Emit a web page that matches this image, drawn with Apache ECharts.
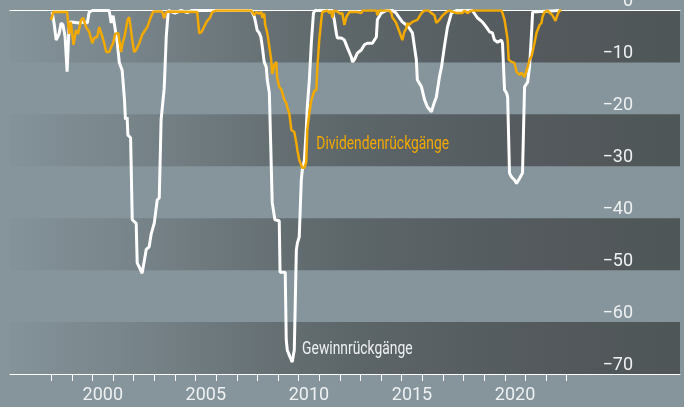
<!DOCTYPE html>
<html>
<head>
<meta charset="utf-8">
<script src="https://cdn.jsdelivr.net/npm/echarts@6/dist/echarts.min.js"></script>
<style>
html,body{margin:0;padding:0;background:#86959b;}
#c{width:684px;height:407px;}
</style>
</head>
<body>
<div id="c"></div>
<script>
// Gewinnrückgänge (earnings declines), [year, %]
const earningsDeclines = [
  [1998.04,-0.3],[1998.14,-2.5],[1998.24,-5.7],[1998.38,-4.5],[1998.48,-2.4],[1998.57,-2.8],[1998.67,-5.0],
  [1998.77,-11.8],[1998.82,-11.8],[1998.87,-2.4],[1998.97,-2.2],[1999.35,-2.4],[1999.6,-2.2],[1999.75,-2.4],
  [1999.84,-0.3],[2000.0,0],[2000.81,0],[2000.91,-2.4],[2001.0,-1.0],[2001.1,-3.5],[2001.2,-6.0],[2001.3,-10.0],
  [2001.44,-11.5],[2001.55,-17.0],[2001.6,-21.0],[2001.68,-20.5],[2001.72,-24.0],[2001.85,-24.5],[2001.93,-40.3],
  [2002.0,-40.6],[2002.12,-41.0],[2002.17,-48.6],[2002.27,-49.4],[2002.35,-49.6],[2002.41,-50.6],[2002.5,-50.3],
  [2002.61,-46.0],[2002.75,-45.5],[2002.85,-43.0],[2003.0,-40.9],[2003.14,-36.5],[2003.24,-36.1],[2003.33,-21.0],
  [2003.48,-15.0],[2003.58,-5.0],[2003.68,0],[2004.0,-0.5],[2004.3,0],[2004.6,-0.4],[2004.8,0],[2007.71,0],
  [2007.85,-1.2],[2007.92,-2.4],[2007.99,-3.8],[2008.09,-4.3],[2008.17,-5.1],[2008.24,-7.0],[2008.33,-9.9],
  [2008.43,-10.9],[2008.48,-13.4],[2008.58,-15.9],[2008.67,-15.9],[2008.72,-37.0],[2008.77,-37.2],[2008.85,-40.3],
  [2008.92,-40.3],[2009.06,-40.5],[2009.1,-50.4],[2009.16,-50.4],[2009.35,-50.4],[2009.4,-63.4],[2009.45,-65.4],
  [2009.58,-66.7],[2009.69,-67.7],[2009.79,-65.4],[2009.89,-46.1],[2009.94,-44.8],[2010.03,-43.6],[2010.13,-32.6],
  [2010.18,-30.7],[2010.28,-28.8],[2010.37,-23.0],[2010.42,-18.6],[2010.52,-13.4],[2010.62,-6.0],[2010.72,-0.5],
  [2010.8,0],[2011.64,0],[2011.73,-1.8],[2011.83,-4.4],[2011.88,-5.3],[2012.07,-5.3],[2012.22,-5.7],[2012.37,-7.2],
  [2012.56,-9.0],[2012.61,-9.9],[2012.7,-9.5],[2012.85,-8.2],[2013.04,-7.6],[2013.19,-6.6],[2013.33,-6.3],
  [2013.58,-6.3],[2013.77,-5.1],[2013.82,-1.8],[2014.01,-0.5],[2014.26,0],[2014.55,0],[2014.73,-0.5],[2014.89,-1.4],
  [2015.03,-2.2],[2015.23,-2.8],[2015.37,-3.4],[2015.52,-4.3],[2015.71,-9.5],[2015.76,-13.4],[2015.96,-14.7],
  [2016.11,-17.2],[2016.25,-18.6],[2016.44,-19.5],[2016.59,-17.6],[2016.68,-16.7],[2016.83,-12.8],[2016.93,-10.9],
  [2017.07,-7.0],[2017.22,-3.2],[2017.41,-0.5],[2017.66,0],[2018.43,0],[2018.67,-1.4],[2018.91,-2.2],[2019.11,-3.2],
  [2019.26,-4.1],[2019.4,-4.3],[2019.5,-5.7],[2019.65,-6.1],[2019.84,-5.7],[2019.89,-6.3],[2019.99,-15.3],
  [2020.09,-15.9],[2020.14,-16.7],[2020.23,-31.3],[2020.33,-32.1],[2020.47,-32.6],[2020.57,-33.3],[2020.72,-32.3],
  [2020.86,-31.3],[2020.96,-14.7],[2021.11,-13.8],[2021.2,-10.9],[2021.3,-4.3],[2021.35,-0.3],[2022.66,0]
];

// Dividendenrückgänge (dividend declines), [year, %]
const dividendDeclines = [
  [1997.99,-1.8],[1998.1,-0.3],[1998.77,-0.3],[1998.87,-4.5],[1998.95,-2.2],[1999.08,-6.6],[1999.2,-3.8],
  [1999.3,-4.5],[1999.45,-1.8],[1999.55,-1.4],[1999.69,-3.2],[1999.84,-4.1],[1999.99,-6.3],[2000.08,-5.3],
  [2000.23,-5.1],[2000.33,-3.2],[2000.42,-4.3],[2000.57,-6.3],[2000.67,-8.0],[2000.81,-8.0],[2000.91,-7.0],
  [2001.0,-6.3],[2001.1,-4.5],[2001.25,-4.3],[2001.39,-8.0],[2001.46,-6.3],[2001.55,-5.1],[2001.64,-3.2],
  [2001.7,-1.8],[2001.78,-1.3],[2001.85,-3.2],[2001.93,-5.7],[2002.02,-8.0],[2002.12,-7.6],[2002.27,-6.3],
  [2002.41,-4.7],[2002.55,-3.8],[2002.66,-3.2],[2002.8,-1.6],[2002.95,-0.2],[2003.38,-0.2],[2003.48,-1.5],
  [2003.55,-0.5],[2003.65,-0.2],[2005.08,-0.3],[2005.18,-4.4],[2005.3,-4.1],[2005.37,-4.4],[2005.53,-2.2],
  [2005.7,-1.4],[2005.81,-0.3],[2006.0,0],[2007.7,0],[2007.85,-0.9],[2007.94,-0.3],[2008.09,-0.6],[2008.19,-0.3],
  [2008.24,-1.4],[2008.33,-0.6],[2008.38,-2.8],[2008.48,-4.3],[2008.58,-7.0],[2008.67,-9.5],[2008.72,-12.2],
  [2008.82,-10.5],[2008.92,-9.9],[2008.96,-13.0],[2009.06,-14.7],[2009.16,-15.2],[2009.25,-15.5],[2009.31,-17.2],
  [2009.4,-17.8],[2009.45,-18.6],[2009.55,-19.9],[2009.65,-23.0],[2009.79,-23.4],[2009.89,-25.5],[2009.94,-26.9],
  [2010.03,-28.8],[2010.18,-30.3],[2010.28,-30.3],[2010.37,-29.2],[2010.42,-23.0],[2010.52,-19.7],[2010.62,-17.2],
  [2010.67,-16.9],[2010.76,-15.5],[2010.86,-15.3],[2010.91,-10.9],[2011.0,-5.7],[2011.1,-1.8],[2011.15,-0.3],
  [2011.39,0],[2011.49,-0.5],[2011.56,0],[2011.64,-1.4],[2011.7,0],[2011.88,-0.2],[2012.0,-0.6],[2012.12,-0.5],
  [2012.22,-2.8],[2012.32,-1.2],[2012.46,-0.3],[2012.85,-0.3],[2013.04,-0.5],[2013.1,0],[2013.77,0],[2013.82,-0.9],
  [2013.9,0],[2014.4,0],[2014.5,-0.5],[2014.55,-1.4],[2014.64,-1.8],[2014.73,-2.4],[2014.89,-4.1],[2014.98,-5.1],
  [2015.03,-5.7],[2015.13,-4.1],[2015.23,-3.4],[2015.27,-2.4],[2015.35,-2.8],[2015.52,-2.2],[2015.6,-2.4],
  [2015.76,-1.8],[2015.96,-0.5],[2016.11,0],[2016.3,0],[2016.44,-0.5],[2016.59,-0.9],[2016.68,-2.4],[2016.75,-2.2],
  [2016.83,-1.8],[2016.97,-1.0],[2017.17,-0.3],[2017.31,0],[2017.66,-0.5],[2017.75,-0.2],[2017.95,-0.5],[2018.05,0],
  [2018.19,-0.5],[2018.3,-0.2],[2018.43,0],[2019.84,0],[2019.89,-0.5],[2019.99,-1.8],[2020.09,-4.3],[2020.14,-5.7],
  [2020.19,-9.5],[2020.33,-9.9],[2020.47,-10.1],[2020.57,-11.8],[2020.72,-12.4],[2020.81,-12.0],[2020.96,-12.8],
  [2021.05,-13.0],[2021.11,-10.9],[2021.2,-9.5],[2021.3,-8.8],[2021.44,-6.3],[2021.54,-4.3],[2021.69,-2.8],
  [2021.78,-2.4],[2021.83,-1.2],[2021.93,-0.3],[2022.07,0],[2022.2,-0.5],[2022.31,-0.9],[2022.46,-2.0],
  [2022.55,-0.9],[2022.65,0],[2022.75,0]
];

const yearTicks = [1998,1999,2000,2001,2002,2003,2004,2005,2006,2007,2008,2009,2010,2011,2012,2013,2014,2015,2016,2017,2018,2019,2020,2021,2022,2023];
const yearLabels = [2000, 2005, 2010, 2015, 2020];
const seriesNames = ['Gewinnrückgänge', 'Dividendenrückgänge'];
// anchor (data coordinates) of the in-chart series labels
const labelAnchors = [[2010.17, -65.2], [2010.86, -25.9]];

const AXISFONT = "Roboto, 'Liberation Sans', sans-serif";
const WHITE = '#ffffff', ORANGE = '#f2a900', TEXT = '#eef1f2';
const darkBand = new echarts.graphic.LinearGradient(0, 0, 1, 0, [
  {offset: 0, color: '#84929a'},
  {offset: 0.15, color: '#7a878c'},
  {offset: 0.5, color: '#5d6669'},
  {offset: 0.8, color: '#53595c'},
  {offset: 1, color: '#4f5658'}
]);

const chart = echarts.init(document.getElementById('c'), null, {renderer: 'canvas'});
chart.setOption({
  backgroundColor: '#86959b',
  animation: false,
  grid: {left: 10, right: 4, top: 10.5, bottom: 33, containLabel: false, outerBoundsMode: 'none'},
  xAxis: [{
    type: 'value', min: 1996, max: 2028.5,
    axisLine: {show: true, onZero: false, lineStyle: {color: WHITE, width: 1}},
    axisTick: {show: true, customValues: yearTicks, length: 7, lineStyle: {color: WHITE, width: 1}},
    axisLabel: {customValues: yearLabels.map(y => y + 0.5), formatter: v => String(Math.floor(v)),
      color: TEXT, fontSize: 18, fontFamily: AXISFONT, margin: 12},
    splitLine: {show: false}
  }, {
    type: 'value', min: 1996, max: 2028.5, position: 'top',
    axisLine: {show: true, onZero: false, lineStyle: {color: WHITE, width: 1}},
    axisTick: {show: false}, axisLabel: {show: false}, splitLine: {show: false}
  }],
  yAxis: {
    type: 'value', min: -70, max: 0, interval: 10, position: 'right',
    axisLine: {show: false}, axisTick: {show: false}, splitLine: {show: false},
    splitArea: {show: true, areaStyle: {color: [darkBand, 'rgba(0,0,0,0)']}},
    axisLabel: {inside: true, margin: 47, color: TEXT, fontSize: 18, fontFamily: AXISFONT,
      verticalAlign: 'bottom', align: 'right',
      formatter: v => String(v).replace('-', '\u2212')}
  },
  series: [{
    name: seriesNames[0], type: 'line', data: earningsDeclines, showSymbol: false,
    lineStyle: {color: WHITE, width: 3}, itemStyle: {color: WHITE}, z: 3
  }, {
    name: seriesNames[1], type: 'line', data: dividendDeclines, showSymbol: false,
    lineStyle: {color: ORANGE, width: 2.5}, itemStyle: {color: ORANGE}, z: 4
  }]
});

// series labels as condensed text, positioned from data coordinates
const labelColors = [TEXT, ORANGE];
chart.setOption({
  graphic: seriesNames.map((name, i) => {
    const p = chart.convertToPixel({xAxisIndex: 0, yAxisIndex: 0}, labelAnchors[i]);
    return {
      type: 'text', x: p[0], y: p[1], scaleX: 0.77, z: 10, silent: true,
      style: {text: name, fill: labelColors[i], font: "18px Roboto, sans-serif",
        textAlign: 'left', textVerticalAlign: 'middle'}
    };
  })
});
</script>
</body>
</html>
